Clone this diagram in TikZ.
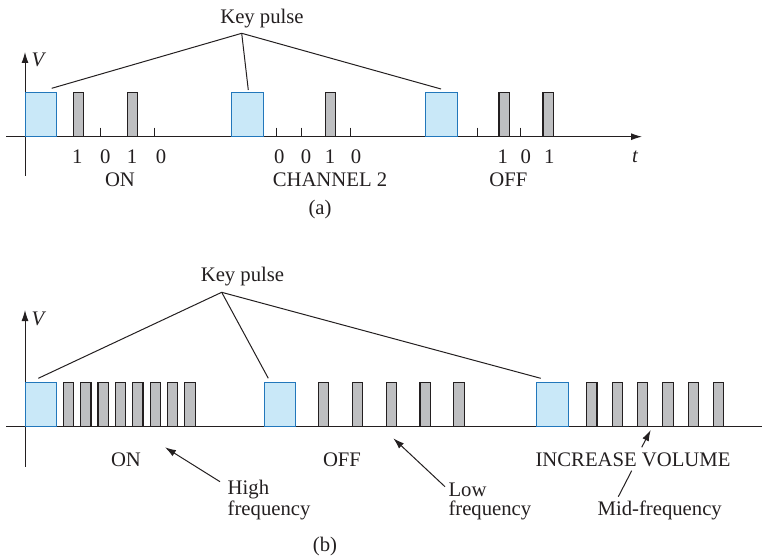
\documentclass[tikz,border=0pt]{standalone}
\usepackage{fontspec}
\setmainfont{Liberation Serif}
\usetikzlibrary{arrows.meta,calc}
\definecolor{pblue}{HTML}{C9E8F8}
\definecolor{pblueline}{HTML}{2277BB}
\definecolor{pgray}{HTML}{BEBFC1}
\definecolor{ink}{HTML}{231F20}
\tikzset{
  keyp/.style={draw=pblueline,fill=pblue,line width=1pt,inner sep=0pt,outer sep=0pt,minimum width=31.6pt,minimum height=44.4pt,anchor=south west},
  datp/.style={draw=ink,fill=pgray,line width=1.1pt,inner sep=0pt,outer sep=0pt,minimum width=10.3pt,minimum height=44.4pt,anchor=south west},
  lbl/.style={inner sep=0pt,font=\fontsize{20.7}{23}\selectfont,text=ink},
  ln/.style={draw=ink,line width=1pt},
  arr/.style={draw=ink,line width=1pt,-{Latex[length=11pt,width=7pt]}},
  tick/.style={draw=ink,line width=1pt},
}
\begin{document}
\begin{tikzpicture}[x=1pt,y=-1pt]
\useasboundingbox (0,0) rectangle (762,556);
% ---------- (a) ----------
\draw[arr] (25,176) -- (25,52);
\draw[arr] (6,136.7) -- (642,136.7);
\node[lbl] (aV) at (38,60) {\itshape V};
\node[lbl] (at) at (635,157) {\itshape t};
\node[keyp] (ak1) at (25,136.7) {};
\node[datp] (ad1) at (73.3,136.7) {};
\node[datp] (ad2) at (127.5,136.7) {};
\node[keyp] (ak2) at (231.7,136.7) {};
\node[datp] (ad3) at (325.5,136.7) {};
\node[keyp] (ak3) at (425.7,136.7) {};
\node[datp] (ad4) at (499,136.7) {};
\node[datp] (ad5) at (543,136.7) {};
\foreach \x in {100,154.3,276,301,350.7,477.3,520.7}
  \draw[tick] (\x,127.7) -- (\x,136.7);
\node[lbl] (a1) at (77.3,156.7) {1};
\node[lbl] (a2) at (105.3,156.7) {0};
\node[lbl] (a3) at (132,156.7) {1};
\node[lbl] (a4) at (161,156.7) {0};
\node[lbl] (a5) at (279.3,156.7) {0};
\node[lbl] (a6) at (306,156.7) {0};
\node[lbl] (a7) at (330,156.7) {1};
\node[lbl] (a8) at (356,156.7) {0};
\node[lbl] (a9) at (502.7,156.7) {1};
\node[lbl] (a10) at (525.7,156.7) {0};
\node[lbl] (a11) at (549.3,156.7) {1};
\node[lbl] (aon) at (120,180) {ON};
\node[lbl] (ach) at (330,180) {CHANNEL 2};
\node[lbl] (aoff) at (508.3,180) {OFF};
\node[lbl] (acap) at (320,210) {(a)};
\node[lbl] (akey) at (262,19) {Key pulse};
\coordinate (akc) at (241.7,33.3);
\coordinate (ae1) at (51.7,88.3);
\coordinate (ae2) at (248.3,90);
\coordinate (ae3) at (441,89);
\draw[ln] (ae1) -- (akc) -- (ae3);
\draw[ln] (akc) -- (ae2);
% ---------- (b) ----------
\draw[arr] (25,466.7) -- (25,310);
\draw[ln] (6,426.7) -- (762,426.7);
\node[lbl] (bV) at (38,319) {\itshape V};
\node[keyp] (bk1) at (25,426.7) {};
\foreach \i in {0,...,7}
  \node[datp] (bh\i) at (63.3+17.35*\i,426.7) {};
\node[keyp] (bk2) at (264,426.7) {};
\foreach \i in {0,...,4}
  \node[datp] (bl\i) at (318.3+33.9*\i,426.7) {};
\node[keyp] (bk3) at (536.7,426.7) {};
\foreach \i in {0,...,5}
  \node[datp] (bm\i) at (586.7+25.35*\i,426.7) {};
\node[lbl] (bkey) at (242.5,276.7) {Key pulse};
\coordinate (bkc) at (221.7,292.3);
\coordinate (be1) at (38.3,378.3);
\coordinate (be2) at (268.3,378.3);
\coordinate (be3) at (540.7,378.3);
\draw[ln] (be1) -- (bkc) -- (be3);
\draw[ln] (bkc) -- (be2);
\node[lbl] (bon) at (126,460) {ON};
\node[lbl] (boff) at (342,460) {OFF};
\node[lbl] (binc) at (633,460) {INCREASE VOLUME};
\node[lbl,anchor=west] (bhigh) at (227.5,489.5) {High};
\node[lbl,anchor=west] (bhf) at (227.5,510) {frequency};
\node[lbl,anchor=west] (blow) at (448.3,489.5) {Low};
\node[lbl,anchor=west] (blf) at (448.3,510) {frequency};
\node[lbl] (bmid) at (659.7,510) {Mid-frequency};
\node[lbl] (bcap) at (325,546.7) {(b)};
\coordinate (hs) at (220,481.7);
\coordinate (ht) at (165,447.3);
\draw[arr] (hs) -- (ht);
\coordinate (ls) at (445,486.7);
\coordinate (lt) at (393.3,438.3);
\draw[arr] (ls) -- (lt);
\coordinate (ms) at (641.7,447.3);
\coordinate (mt) at (650.7,430);
\draw[arr] (ms) -- (mt);
\coordinate (ms2) at (618.3,496.7);
\coordinate (mt2) at (631.7,470.7);
\draw[ln] (ms2) -- (mt2);
\end{tikzpicture}
\end{document}
